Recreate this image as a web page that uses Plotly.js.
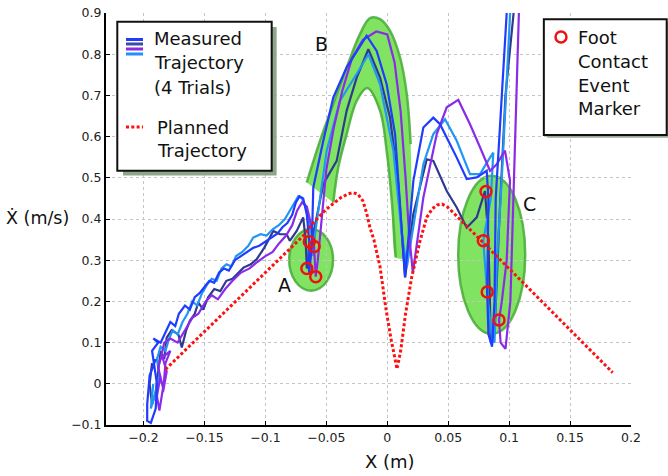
<!DOCTYPE html>
<html>
<head>
<meta charset="utf-8">
<script src="https://cdn.plot.ly/plotly-3.0.1.min.js"></script>
<style>html,body{margin:0;padding:0;background:#fff;}#chart{width:668px;height:476px;}</style>
</head>
<body>
<div id="chart"></div>
<script>
// ---- Data ----
var navyX = [-0.193,-0.195,-0.193,-0.190,-0.188,-0.186,-0.183,-0.181,-0.177,-0.1714,-0.1686,-0.165,-0.162,-0.158,-0.155,-0.151,-0.147,-0.142,-0.137,-0.132,-0.127,-0.122,-0.118,-0.112,-0.107,-0.101,-0.096,-0.0935,-0.088,-0.0825,-0.080,-0.0743,-0.069,-0.067,-0.066,-0.064,-0.0607,-0.0525,-0.0415,-0.0333,-0.0251,-0.0155,-0.0059,0.0023,0.009,0.0146,0.0214,0.0324,0.0378,0.0488,0.057,0.0652,0.0734,0.0802,0.083,0.084,0.085,0.088,0.092,0.097,0.103,0.106];
var navyY = [0.05,0.0,-0.05,-0.02,0.03,0.08,0.06,0.112,0.13,0.12,0.088,0.13,0.153,0.17,0.197,0.18,0.21,0.23,0.225,0.25,0.255,0.27,0.282,0.29,0.303,0.33,0.355,0.371,0.363,0.363,0.347,0.371,0.404,0.35,0.28,0.30,0.363,0.485,0.541,0.663,0.743,0.812,0.743,0.646,0.485,0.258,0.412,0.545,0.541,0.468,0.428,0.379,0.404,0.468,0.35,0.2,0.1,0.12,0.4,0.7,0.9,0.97];

var blueX = [-0.190,-0.195,-0.197,-0.197,-0.194,-0.190,-0.189,-0.191,-0.193,-0.188,-0.192,-0.186,-0.181,-0.178,-0.174,-0.171,-0.166,-0.162,-0.158,-0.154,-0.150,-0.146,-0.142,-0.138,-0.134,-0.130,-0.125,-0.120,-0.115,-0.110,-0.105,-0.100,-0.095,-0.090,-0.086,-0.082,-0.078,-0.075,-0.072,-0.069,-0.066,-0.065,-0.064,-0.065,-0.064,-0.062,-0.0607,-0.0525,-0.0443,-0.0333,-0.0169,-0.0087,-0.0005,0.0064,0.0105,0.0137,0.0146,0.0214,0.0296,0.0378,0.0433,0.057,0.0652,0.0734,0.0816,0.083,0.082,0.082,0.083,0.086,0.088,0.089,0.094,0.098,0.101];
var blueY = [0.06,0.02,-0.05,-0.09,-0.095,-0.06,0.0,0.04,0.08,0.1,0.11,0.1,0.13,0.15,0.14,0.17,0.19,0.18,0.21,0.22,0.235,0.25,0.245,0.27,0.28,0.275,0.30,0.31,0.32,0.33,0.335,0.345,0.355,0.365,0.38,0.39,0.41,0.44,0.455,0.45,0.41,0.37,0.345,0.30,0.27,0.33,0.4765,0.59,0.695,0.768,0.845,0.808,0.727,0.606,0.444,0.30,0.26,0.4927,0.622,0.646,0.630,0.549,0.497,0.501,0.517,0.45,0.30,0.223,0.12,0.09,0.2,0.45,0.7,0.9,0.97];

var purpleX = [-0.186,-0.189,-0.187,-0.184,-0.188,-0.185,-0.181,-0.184,-0.182,-0.178,-0.186,-0.183,-0.178,-0.172,-0.166,-0.160,-0.155,-0.149,-0.144,-0.139,-0.133,-0.127,-0.120,-0.113,-0.107,-0.100,-0.094,-0.089,-0.083,-0.078,-0.074,-0.070,-0.066,-0.062,-0.060,-0.059,-0.0587,-0.057,-0.054,-0.050,-0.044,-0.037,-0.029,-0.020,-0.009,0.0,0.006,0.011,0.015,0.018,0.021,0.0296,0.0406,0.0488,0.0583,0.0679,0.0761,0.0843,0.0898,0.0966,0.1007,0.098,0.094,0.0917,0.093,0.097,0.101,0.103,0.104,0.106,0.108,0.110];
var purpleY = [0.02,-0.03,-0.065,-0.01,0.04,0.07,0.03,-0.02,0.05,0.08,0.06,0.10,0.11,0.10,0.13,0.16,0.17,0.20,0.215,0.205,0.23,0.25,0.27,0.28,0.295,0.31,0.32,0.34,0.36,0.385,0.42,0.44,0.43,0.38,0.33,0.28,0.26,0.30,0.40,0.52,0.62,0.71,0.79,0.835,0.855,0.848,0.78,0.66,0.50,0.36,0.27,0.452,0.606,0.671,0.689,0.630,0.574,0.517,0.533,0.566,0.493,0.3,0.2,0.155,0.1,0.085,0.2,0.4,0.55,0.75,0.9,0.97];

var lightX = [-0.192,-0.194,-0.191,-0.187,-0.189,-0.186,-0.182,-0.179,-0.176,-0.172,-0.168,-0.164,-0.160,-0.156,-0.152,-0.148,-0.144,-0.140,-0.136,-0.132,-0.128,-0.124,-0.119,-0.114,-0.110,-0.104,-0.099,-0.094,-0.089,-0.084,-0.080,-0.076,-0.073,-0.070,-0.067,-0.064,-0.061,-0.060,-0.061,-0.0593,-0.0497,-0.0388,-0.0251,-0.0155,-0.0059,0.005,0.0119,0.016,0.0296,0.0378,0.0474,0.057,0.0679,0.0761,0.0843,0.087,0.085,0.0788,0.082,0.086,0.088,0.090,0.094,0.097,0.100,0.102];
var lightY = [0.0,-0.06,-0.03,0.02,0.06,0.09,0.08,0.11,0.13,0.12,0.15,0.17,0.2,0.19,0.22,0.24,0.255,0.25,0.28,0.29,0.285,0.31,0.32,0.335,0.355,0.363,0.36,0.375,0.385,0.40,0.42,0.44,0.455,0.45,0.43,0.39,0.345,0.333,0.31,0.363,0.566,0.687,0.752,0.80,0.727,0.566,0.363,0.282,0.533,0.606,0.642,0.590,0.509,0.509,0.549,0.561,0.45,0.347,0.22,0.11,0.1,0.3,0.5,0.7,0.9,0.97];

var plannedX = [-0.182,-0.11,-0.0676,-0.061,-0.052,-0.0445,-0.038,-0.032,-0.028,-0.024,-0.020,-0.017,-0.0142,-0.011,-0.0084,-0.006,-0.0043,-0.001,0.003,0.006,0.008,0.011,0.015,0.02,0.0269,0.0324,0.037,0.041,0.045,0.049,0.054,0.185];
var plannedY = [0.035,0.243,0.363,0.39,0.418,0.437,0.452,0.461,0.464,0.46,0.444,0.415,0.379,0.35,0.32,0.285,0.25,0.18,0.11,0.06,0.036,0.08,0.17,0.258,0.347,0.404,0.425,0.434,0.436,0.43,0.416,0.027];

var contactX = [-0.064,-0.060,-0.066,-0.0587,0.081,0.0788,0.082,0.0917];
var contactY = [0.345,0.333,0.28,0.26,0.467,0.347,0.223,0.155];

// highlighted regions
var archOuterX = [-0.0661,-0.0552,-0.0443,-0.0333,-0.0224,-0.01415,-0.0059,0.0023,0.0105,0.016,0.0192];
var archOuterY = [0.4886,0.5898,0.6789,0.7677,0.8488,0.8876,0.8852,0.8568,0.792,0.703,0.5818];
var archInnerX = [0.0069,0.0037,-0.0005,-0.0059,-0.0164,-0.0251,-0.0333,-0.0402,-0.0443];
var archInnerY = [0.3066,0.4442,0.5655,0.6626,0.7177,0.6869,0.606,0.525,0.44];
var archCornerX = [0.017];
var archCornerY = [0.306];
var ellipseCx = [-0.0625, 0.0857];
var ellipseCy = [0.301, 0.313];
var ellipseRx = [0.018, 0.0275];
var ellipseRy = [0.075, 0.192];
var regionLabels = ['A','B','C'];
var regionLabelX = [-0.0847,-0.0536,0.117];
var regionLabelY = [0.24,0.825,0.437];

var xTicks = [-0.2,-0.15,-0.1,-0.05,0,0.05,0.1,0.15,0.2];
var yTicks = [-0.1,0,0.1,0.2,0.3,0.4,0.5,0.6,0.7,0.8,0.9];

// ---- Styling ----
var C_NAVY = '#2e3a8e', C_BLUE = '#1f3cff', C_PURPLE = '#8a2be8', C_LIGHT = '#2196f3';
var GREEN_FILL = '#80e462', GREEN_EDGE = 'rgba(70,170,55,0.85)';
var FONT = 'DejaVu Sans, Verdana, sans-serif';

var traces = [];
traces.push({x: archOuterX.concat(archCornerX, archInnerX), y: archOuterY.concat(archCornerY, archInnerY),
  mode:'lines', fill:'toself', fillcolor: GREEN_FILL, line:{width:0, shape:'spline', smoothing:0.6}, hoverinfo:'skip', showlegend:false});
traces.push({x: archOuterX, y: archOuterY, mode:'lines', line:{color:GREEN_EDGE, width:2.5, shape:'spline'}, hoverinfo:'skip', showlegend:false});
traces.push({x: archInnerX, y: archInnerY, mode:'lines', line:{color:GREEN_EDGE, width:2.5, shape:'spline'}, hoverinfo:'skip', showlegend:false});

var series = [[navyX,navyY,C_NAVY],[lightX,lightY,C_LIGHT],[purpleX,purpleY,C_PURPLE],[blueX,blueY,C_BLUE]];
series.forEach(function(s){
  traces.push({x:s[0], y:s[1], mode:'lines', line:{color:s[2], width:2.2}, showlegend:false});
});
traces.push({x:plannedX, y:plannedY, mode:'lines', line:{color:'#ff1010', width:3, dash:'3px,2.3px'}, showlegend:false});
traces.push({x:contactX, y:contactY, mode:'markers', marker:{symbol:'circle-open', size:11, color:'#ee1111', line:{width:2.5, color:'#ee1111'}}, showlegend:false});

var shapes = [];
for (var i=0;i<ellipseCx.length;i++){
  shapes.push({type:'circle', xref:'x', yref:'y', layer:'below',
    x0: ellipseCx[i]-ellipseRx[i], x1: ellipseCx[i]+ellipseRx[i],
    y0: ellipseCy[i]-ellipseRy[i], y1: ellipseCy[i]+ellipseRy[i],
    fillcolor: GREEN_FILL, line:{color:GREEN_EDGE, width:2.5}});
}
// legend boxes (paper coords)
shapes.push({type:'rect', xref:'paper', yref:'paper', x0:0.0324, x1:0.325, y0:0.6056, y1:0.966, fillcolor:'#8ea689', line:{width:0}});
shapes.push({type:'rect', xref:'paper', yref:'paper', x0:0.0215, x1:0.3156, y0:0.617, y1:0.979, fillcolor:'#ffffff', line:{color:'#111', width:2}});
shapes.push({type:'rect', xref:'paper', yref:'paper', x0:0.840, x1:1.075, y0:0.697, y1:0.978, fillcolor:'#9aaa96', line:{width:0}});
shapes.push({type:'rect', xref:'paper', yref:'paper', x0:0.834, x1:1.068, y0:0.704, y1:0.985, fillcolor:'#ffffff', line:{color:'#111', width:2}});
var legLineY = [0.9357, 0.9248, 0.9126, 0.9005];
var legLineC = [C_BLUE, '#3c4b9a', C_PURPLE, '#1e90ff'];
for (var j=0;j<4;j++){
  shapes.push({type:'line', xref:'paper', yref:'paper', x0:0.0381, x1:0.0705, y0:legLineY[j], y1:legLineY[j], line:{color:legLineC[j], width:3}});
}
shapes.push({type:'line', xref:'paper', yref:'paper', x0:0.0381, x1:0.0705, y0:0.7233, y1:0.7233, line:{color:'#ff1010', width:3, dash:'3px,2.3px'}});
shapes.push({type:'circle', xref:'paper', yref:'paper', x0:0.8562, x1:0.8771, y0:0.9284, y1:0.9551, line:{color:'#ee1111', width:2.5}});

var annotations = [];
function txt(t, x, y, size, xanchor){
  annotations.push({text:t, xref:'paper', yref:'paper', x:x, y:y, xanchor:xanchor||'left', yanchor:'middle', showarrow:false, font:{family:FONT, size:size, color:'#111'}});
}
txt('Measured', 0.0876, 0.937, 18);
txt('Trajectory', 0.0876, 0.879, 18);
txt('(4 Trials)', 0.0876, 0.8197, 18);
txt('Planned', 0.0933, 0.7226, 18);
txt('Trajectory', 0.0933, 0.6658, 18);
txt('Foot', 0.8952, 0.941, 18);
txt('Contact', 0.8952, 0.8818, 18);
txt('Event', 0.8952, 0.8252, 18);
txt('Marker', 0.8952, 0.7687, 18);
txt('X (m)', 0.541, -0.0898, 18, 'center');
txt('\u1E8A (m/s)', -0.131, 0.5024, 17.5, 'center');
for (var k=0;k<regionLabels.length;k++){
  annotations.push({text:regionLabels[k], xref:'x', yref:'y', x:regionLabelX[k], y:regionLabelY[k], showarrow:false, xanchor:'center', yanchor:'middle', font:{family:FONT, size:19, color:'#111'}});
}

var axisCommon = {showgrid:true, gridcolor:'#c4c4c4', griddash:'dot', gridwidth:1, zeroline:false,
  showline:true, linecolor:'#000', linewidth:2, ticks:'inside', ticklen:4, tickcolor:'#000', tickwidth:1,
  tickfont:{family:FONT, size:12.5, color:'#222'}, mirror:false};

var layout = {
  width:668, height:476, margin:{l:106, r:37, t:13, b:51},
  paper_bgcolor:'#fff', plot_bgcolor:'#fff', showlegend:false,
  xaxis: Object.assign({}, axisCommon, {range:[-0.2308, 0.2], tickvals:xTicks}),
  yaxis: Object.assign({}, axisCommon, {range:[-0.1, 0.9], tickvals:yTicks}),
  shapes: shapes, annotations: annotations
};
Plotly.newPlot('chart', traces, layout, {displayModeBar:false, staticPlot:true});
</script>
</body>
</html>
